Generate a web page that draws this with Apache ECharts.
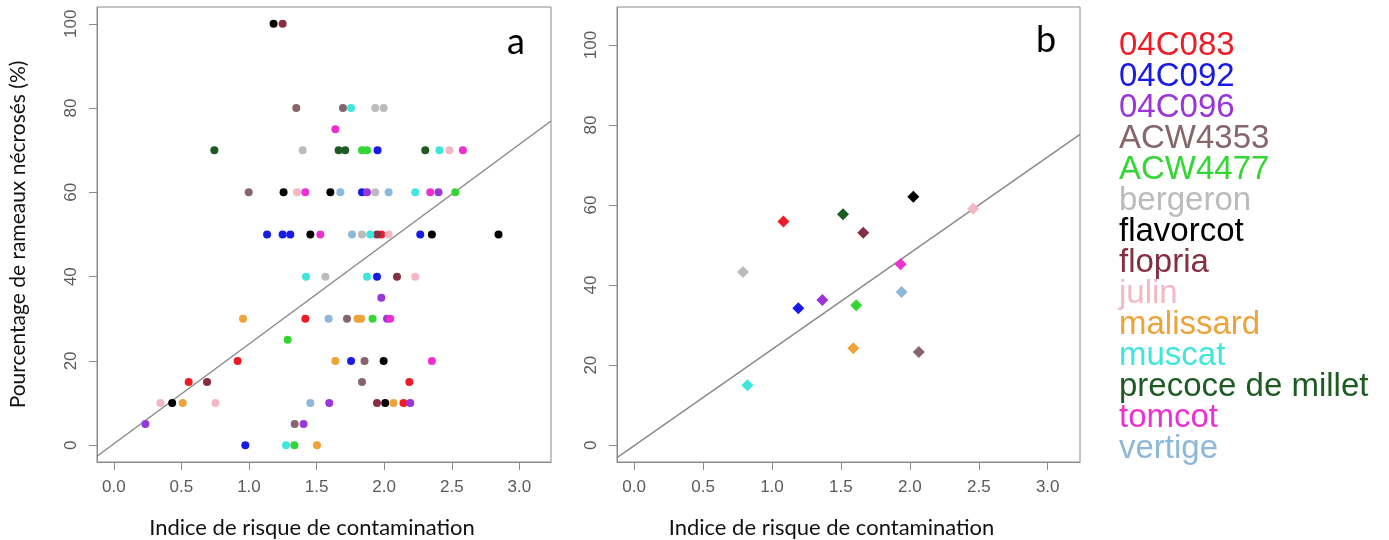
<!DOCTYPE html>
<html><head><meta charset="utf-8">
<script src="https://cdn.jsdelivr.net/npm/echarts@6/dist/echarts.min.js"></script>
<style>html,body{margin:0;padding:0;background:#fff}#c{width:1389px;height:540px}</style>
</head><body><div id="c"></div>
<script>
// ---- categories and colours ----
const cultivars = ['04C083','04C092','04C096','ACW4353','ACW4477','bergeron','flavorcot','flopria','julin','malissard','muscat','precoce de millet','tomcot','vertige'];
const cultivarColors = ['#EE1C25','#1A1AE6','#9A35D8','#86666C','#33D633','#BBBBBB','#000000','#862F42','#F5B7C6','#EDA23A','#3EE6DC','#1D5B22','#EE2FD2','#8EB8DA'];

// ---- panel a : [indice, % rameaux nécrosés] per cultivar ----
const a_04C083   = [[1.979,50],[1.417,30],[0.916,20],[0.554,15],[2.186,15],[2.143,10]];
const a_04C092   = [[1.951,70],[1.836,60],[1.134,50],[1.249,50],[1.306,50],[2.267,50],[1.947,40],[1.755,20],[0.973,0]];
const a_04C096   = [[1.873,60],[2.402,60],[1.979,35],[2.021,30],[1.594,10],[2.193,10],[0.234,5],[1.404,5]];
const a_ACW4353  = [[1.350,80],[1.695,80],[0.998,60],[1.725,30],[1.855,20],[1.836,15],[1.338,5]];
const a_ACW4477  = [[1.836,70],[1.873,70],[2.526,60],[1.914,30],[1.286,25],[1.336,0]];
const a_bergeron = [[1.934,80],[1.996,80],[1.397,70],[1.934,60],[1.836,50],[1.565,40]];
const a_flavorcot= [[1.182,100],[1.256,60],[1.602,60],[1.454,50],[2.353,50],[2.846,50],[1.996,20],[0.432,10],[2.008,10]];
const a_flopria  = [[1.249,100],[1.947,50],[2.095,40],[0.690,15],[1.947,10]];
const a_julin    = [[2.483,70],[1.355,60],[2.033,50],[2.230,40],[0.345,10],[0.752,10]];
const a_malissard= [[0.956,30],[1.803,30],[1.829,30],[1.639,20],[0.510,10],[2.069,10],[1.503,0]];
const a_muscat   = [[1.755,80],[2.409,70],[2.230,60],[1.897,50],[1.422,40],[1.873,40],[1.274,0]];
const a_precoce  = [[0.744,70],[1.663,70],[1.712,70],[2.304,70]];
const a_tomcot   = [[1.639,75],[2.582,70],[1.417,60],[2.341,60],[1.528,50],[2.045,30],[2.353,20]];
const a_vertige  = [[1.676,60],[2.033,60],[1.762,50],[1.589,30],[1.454,10]];
const panelAData = [a_04C083,a_04C092,a_04C096,a_ACW4353,a_ACW4477,a_bergeron,a_flavorcot,a_flopria,a_julin,a_malissard,a_muscat,a_precoce,a_tomcot,a_vertige];

// ---- panel b : one mean point per cultivar (same order) ----
const b_indice = [1.083,1.191,1.365,2.065,1.611,0.790,2.025,1.662,2.459,1.590,0.822,1.515,1.933,1.940];
const b_percent = [55.9,34.2,36.3,23.3,35.0,43.3,62.1,53.1,59.1,24.2,15.0,57.7,45.2,38.3];

// ---- regression lines [intercept, slope] ----
const regA = [0.3, 23.7];
const regB = [-0.1, 24.05];

// ---- ticks ----
const xTicks = [0,0.5,1,1.5,2,2.5,3];
const yTicks = [0,20,40,60,80,100];

const X_MIN = -0.124, X_MAX = 3.234;
const YA_MIN = -4, YA_MAX = 104;
const YB_MIN = -4.2, YB_MAX = 109.5;

const grey = '#8a8a8a';
const labelFont = 'Liberation Sans';
const titleFont = 'Lato';

function xAxisCfg(gi, nameShift){
  return {
    gridIndex: gi, type:'value', min:X_MIN, max:X_MAX,
    name:'Indice de risque de contamination', nameLocation:'middle', nameGap:55,
    nameTextStyle:{fontFamily:titleFont, fontSize:22, color:'#111', padding:[0,nameShift,0,0]},
    splitLine:{show:false},
    axisLine:{show:true, onZero:false, lineStyle:{color:grey}},
    axisTick:{show:true, length:8, customValues:xTicks, lineStyle:{color:grey}},
    axisLabel:{customValues:xTicks, formatter:v=>v.toFixed(1), color:'#5a5a5a', fontSize:17, margin:17, fontFamily:labelFont}
  };
}
function yAxisCfg(gi, mn, mx, withName){
  const c = {
    gridIndex: gi, type:'value', min:mn, max:mx,
    splitLine:{show:false},
    axisLine:{show:true, onZero:false, lineStyle:{color:grey}},
    axisTick:{show:true, length:8, customValues:yTicks, lineStyle:{color:grey}},
    axisLabel:{customValues:yTicks, rotate:90, color:'#5a5a5a', fontSize:17, margin:17, fontFamily:labelFont}
  };
  if (withName){
    c.name = 'Pourcentage de rameaux nécrosés (%)';
    c.nameLocation = 'middle';
    c.nameGap = 68;
    c.nameTextStyle = {fontFamily:titleFont, fontSize:21, color:'#111'};
  }
  return c;
}

const series = [];
cultivars.forEach((name,i)=>{
  series.push({
    name, type:'scatter', xAxisIndex:0, yAxisIndex:0,
    symbol:'circle', symbolSize:8, itemStyle:{color:cultivarColors[i], opacity:1},
    data: panelAData[i]
  });
});
cultivars.forEach((name,i)=>{
  series.push({
    name, type:'scatter', xAxisIndex:1, yAxisIndex:1,
    symbol:'diamond', symbolSize:12, itemStyle:{color:cultivarColors[i], opacity:1},
    data: [[b_indice[i], b_percent[i]]]
  });
});
function regLine(reg, xi){
  return {
    type:'line', xAxisIndex:xi, yAxisIndex:xi, showSymbol:false, silent:true, z:1,
    lineStyle:{color:grey, width:1.5}, clip:true,
    data:[[X_MIN, reg[0]+reg[1]*X_MIN],[X_MAX, reg[0]+reg[1]*X_MAX]]
  };
}
series.push(regLine(regA,0));
series.push(regLine(regB,1));

const chart = echarts.init(document.getElementById('c'), null, {renderer:'canvas'});
chart.setOption({
  animation:false,
  backgroundColor:'#fff',
  grid:[
    {left:97, top:7, width:454, height:455, show:true, borderColor:grey, borderWidth:1, backgroundColor:'transparent', outerBoundsMode:'none', containLabel:false},
    {left:617, top:7, width:463, height:455, show:true, borderColor:grey, borderWidth:1, backgroundColor:'transparent', outerBoundsMode:'none', containLabel:false}
  ],
  xAxis:[xAxisCfg(0,24), xAxisCfg(1,34)],
  yAxis:[yAxisCfg(0,YA_MIN,YA_MAX,true), yAxisCfg(1,YB_MIN,YB_MAX,false)],
  legend:{
    orient:'vertical', left:1109, top:24, icon:'none', itemWidth:0, itemHeight:31, itemGap:-2,
    selectedMode:false,
    textStyle:{fontFamily:labelFont, fontSize:33, lineHeight:31, padding:0},
    data: cultivars.map((n,i)=>({name:n, textStyle:{color:cultivarColors[i]}}))
  },
  graphic:[
    {type:'text', left:507, top:24, style:{text:'a', font:'36px Lato', fill:'#000'}},
    {type:'text', left:1036, top:22, style:{text:'b', font:'36px Lato', fill:'#000'}}
  ],
  series
});
</script></body></html>
